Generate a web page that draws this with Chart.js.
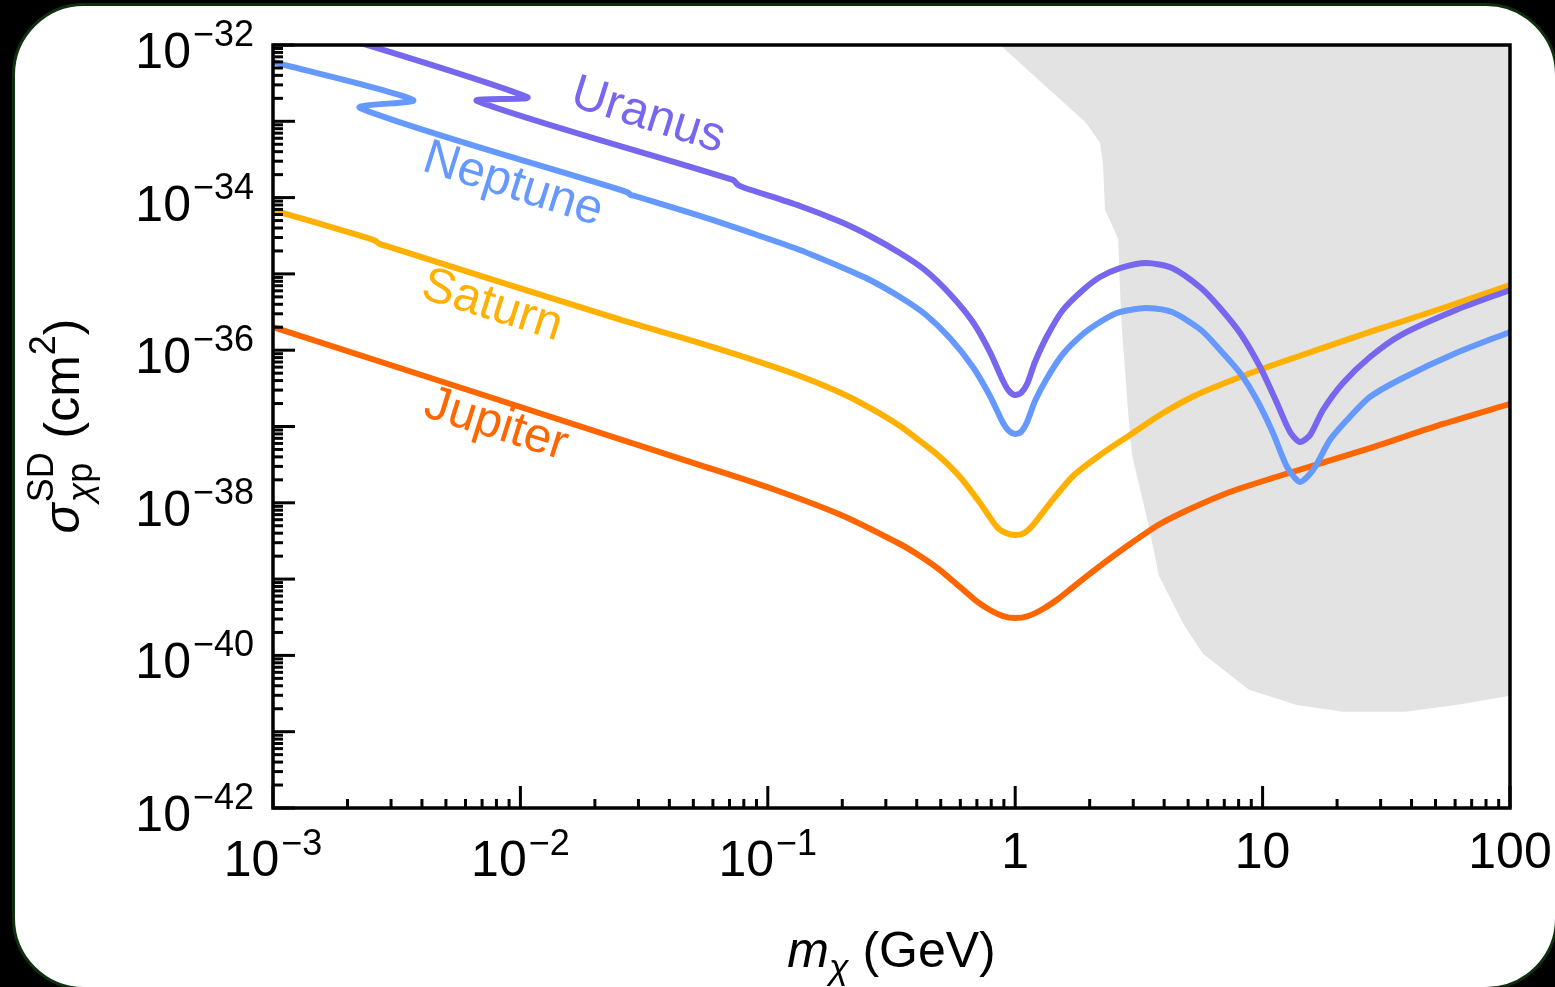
<!DOCTYPE html>
<html>
<head>
<meta charset="utf-8">
<script src="https://cdn.jsdelivr.net/npm/chart.js@4.4.0/dist/chart.umd.min.js"></script>
<style>
  html, body { margin: 0; padding: 0; background: #000; }
  #card {
    position: absolute; left: 12px; top: 3px; width: 1546px; height: 987px;
    box-sizing: border-box; background: #fff;
    border: 3px solid #0f300f; border-radius: 72px;
  }
  #chart { position: absolute; left: 0; top: 0; }
</style>
</head>
<body>
<div id="card"></div>
<canvas id="chart" width="1555" height="987"></canvas>
<script>
// Data: log10(m / GeV) and log10(sigma / cm^2)
const uranusLogM = [-3.000, -1.973, -2.175, -1.141, -1.120, -1.092, -0.870, -0.704, -0.587, -0.466, -0.365, -0.264, -0.171, -0.102,
    -0.049, -0.025, -0.001, 0.023, 0.048, 0.080, 0.129, 0.193, 0.274, 0.343, 0.424, 0.529, 0.634, 0.751, 0.828, 0.909,
    0.990, 1.058, 1.111, 1.151, 1.192, 1.244, 1.325, 1.434, 1.559, 1.782, 2.000];
const uranusLogSigma = [-31.620, -32.682, -32.734, -33.769, -33.835, -33.874, -34.110, -34.320, -34.503, -34.726, -34.949, -35.263, -35.630, -36.024,
    -36.404, -36.535, -36.587, -36.561, -36.443, -36.155, -35.814, -35.473, -35.211, -35.041, -34.923, -34.857, -34.923, -35.185, -35.447, -35.775,
    -36.220, -36.692, -37.072, -37.203, -37.111, -36.784, -36.430, -36.089, -35.801, -35.473, -35.211];

const neptuneLogM = [-3.000, -2.434, -2.648, -1.569, -1.553, -1.537, -1.274, -1.032, -0.870, -0.704, -0.587, -0.466, -0.365, -0.264, -0.171,
    -0.102, -0.049, -0.025, -0.001, 0.023, 0.048, 0.080, 0.129, 0.193, 0.274, 0.343, 0.411, 0.464, 0.529, 0.634, 0.751,
    0.828, 0.909, 0.977, 1.042, 1.099, 1.151, 1.204, 1.272, 1.341, 1.434, 1.559, 1.782, 2.000];
const neptuneLogSigma = [-32.223, -32.721, -32.826, -33.927, -33.966, -33.979, -34.241, -34.503, -34.687, -34.910, -35.080, -35.303, -35.526, -35.840, -36.220,
    -36.600, -36.954, -37.059, -37.098, -37.072, -36.941, -36.666, -36.364, -36.050, -35.788, -35.630, -35.512, -35.473, -35.447, -35.499, -35.735,
    -35.997, -36.299, -36.653, -37.085, -37.531, -37.727, -37.570, -37.177, -36.915, -36.613, -36.377, -36.037, -35.761];

const saturnLogM = [-3.000, -2.592, -2.568, -2.543, -1.593, -1.274, -1.032, -0.870, -0.704, -0.587, -0.466, -0.385, -0.304, -0.223, -0.142,
    -0.074, -0.037, -0.001, 0.036, 0.072, 0.141, 0.234, 0.343, 0.464, 0.585, 0.715, 0.868, 1.054, 1.434, 1.729, 2.000];
const saturnLogSigma = [-34.163, -34.556, -34.608, -34.634, -35.604, -35.906, -36.155, -36.338, -36.561, -36.757, -36.993, -37.190, -37.400, -37.662, -38.003,
    -38.317, -38.396, -38.422, -38.396, -38.291, -38.003, -37.649, -37.374, -37.111, -36.849, -36.613, -36.404, -36.181, -35.761, -35.447, -35.145];

const jupiterLogM = [-3.000, -1.274, -0.991, -0.704, -0.466, -0.385, -0.304, -0.223, -0.162, -0.102, -0.049, -0.001, 0.052, 0.112, 0.173,
    0.234, 0.343, 0.464, 0.585, 0.715, 0.868, 1.054, 1.434, 1.729, 2.000];
const jupiterLogSigma = [-35.696, -37.505, -37.806, -38.160, -38.540, -38.697, -38.881, -39.104, -39.274, -39.405, -39.484, -39.510, -39.484, -39.392, -39.261,
    -39.104, -38.828, -38.540, -38.278, -38.068, -37.858, -37.662, -37.282, -36.967, -36.705];

// excluded region (gray), lower edge; filled up to the top of the plot
const excludedLogM = [-0.061, 0.286, 0.343, 0.355, 0.363, 0.416, 0.428, 0.456, 0.472, 0.541, 0.581, 0.682, 0.759, 0.945, 1.139, 1.325, 1.576, 1.782, 2.000];
const excludedLogSigma = [-32.00, -33.02, -33.28, -33.57, -34.16, -34.54, -35.56, -36.80, -37.37, -38.32, -38.96, -39.60, -39.98, -40.45, -40.65, -40.74, -40.74, -40.65, -40.53];

// axes
const xDecades = [-3, -2, -1, 0, 1, 2];
const xTickBase = ['10', '10', '10', '1', '10', '100'];
const xTickExp = ['\u22123', '\u22122', '\u22121', '', '', ''];
const yDecades = [-42, -41, -40, -39, -38, -37, -36, -35, -34, -33, -32];
const yLabelDecades = [-32, -34, -36, -38, -40, -42];
const yTickExp = ['\u221232', '\u221234', '\u221236', '\u221238', '\u221240', '\u221242'];

const curveNames = ['Uranus', 'Neptune', 'Saturn', 'Jupiter'];
const curveColors = ['#7766ee', '#6699ff', '#ffb000', '#ff6600'];

const FONT = '"Liberation Sans", Arial, Helvetica, sans-serif';
function font(size, style) { return (style || '') + ' ' + size + 'px ' + FONT; }

function toPoints(logM, logS) {
    return logM.map((m, i) => ({ x: Math.pow(10, m), y: Math.pow(10, logS[i]) }));
}

// label placement (center x, center y, angle in degrees)
const labelPlacement = [[648, 116, 17.5], [513, 185, 17.5], [492, 306, 17.5], [496, 425, 17.5]];

// Draw frame, inward ticks, tick labels, titles and curve labels
const decorations = {
    id: 'decorations',
    afterDatasetsDraw(chart) {
        const { ctx, chartArea: a, scales: { x, y } } = chart;
        ctx.save();
        ctx.strokeStyle = '#000';
        ctx.fillStyle = '#000';
        ctx.lineWidth = 3;

        // x ticks (bottom, pointing up)
        xDecades.forEach(d => {
            for (let k = 1; k <= 9; k++) {
                const v = k * Math.pow(10, d);
                if (v > 100 * 1.0001) break;
                const px = x.getPixelForValue(v);
                const len = k === 1 ? 22 : 9;
                ctx.beginPath();
                ctx.moveTo(px, a.bottom);
                ctx.lineTo(px, a.bottom - len);
                ctx.stroke();
            }
        });
        // y ticks (left, pointing right)
        yDecades.forEach(d => {
            for (let k = 1; k <= 9; k++) {
                const v = k * Math.pow(10, d);
                if (v > 1e-32 * 1.0001) break;
                const py = y.getPixelForValue(v);
                const len = k === 1 ? 22 : 10;
                ctx.beginPath();
                ctx.moveTo(a.left, py);
                ctx.lineTo(a.left + len, py);
                ctx.stroke();
            }
        });

        ctx.lineWidth = 3.5;
        ctx.strokeRect(a.left, a.top, a.right - a.left, a.bottom - a.top);

        // x tick labels
        ctx.textAlign = 'left';
        ctx.textBaseline = 'alphabetic';
        xDecades.forEach((d, i) => {
            const px = x.getPixelForValue(Math.pow(10, d));
            ctx.font = font(50);
            const wb = ctx.measureText(xTickBase[i]).width;
            if (xTickExp[i]) {
                ctx.font = font(36);
                const we = ctx.measureText(xTickExp[i]).width;
                const start = px - (wb + 2 + we) / 2;
                ctx.font = font(50);
                ctx.fillText(xTickBase[i], start, 876);
                ctx.font = font(36);
                ctx.fillText(xTickExp[i], start + wb + 2, 855);
            } else {
                ctx.fillText(xTickBase[i], px - wb / 2, 868);
            }
        });

        // y tick labels
        yLabelDecades.forEach((d, i) => {
            const py = y.getPixelForValue(Math.pow(10, d));
            ctx.font = font(36);
            const we = ctx.measureText(yTickExp[i]).width;
            ctx.fillText(yTickExp[i], 254 - we, py + 1);
            ctx.font = font(50);
            const wb = ctx.measureText('10').width;
            ctx.fillText('10', 254 - we - 2 - wb, py + 23);
        });

        // x title: m_chi (GeV)
        const xParts = [['m', font(50, 'italic'), 0], ['\u03c7', font(36, 'italic'), 12], [' (GeV)', font(50), 0]];
        let total = 0;
        xParts.forEach(p => { ctx.font = p[1]; total += ctx.measureText(p[0]).width; });
        let cx = (a.left + a.right) / 2 - total / 2;
        xParts.forEach(p => {
            ctx.font = p[1];
            ctx.fillText(p[0], cx, 967 + p[2]);
            cx += ctx.measureText(p[0]).width;
        });

        // y title: sigma^SD_chi p (cm^2), rotated
        ctx.save();
        ctx.translate(79, 426);
        ctx.rotate(-Math.PI / 2);
        ctx.font = font(50, 'italic');
        const wSig = ctx.measureText('\u03c3').width;
        ctx.font = font(36);
        const wSD = ctx.measureText('SD').width;
        ctx.font = font(36, 'italic');
        const wChi = ctx.measureText('\u03c7').width;
        ctx.font = font(36);
        const wP = ctx.measureText('p').width;
        const wScript = Math.max(wSD, wChi + wP);
        ctx.font = font(50);
        const wOpen = ctx.measureText(' (cm').width;
        const wClose = ctx.measureText(')').width;
        ctx.font = font(36);
        const wTwo = ctx.measureText('2').width;
        total = wSig + 1 + wScript + wOpen + wTwo + wClose;
        let tx = -total / 2;
        ctx.font = font(50, 'italic');
        ctx.fillText('\u03c3', tx, 0);
        tx += wSig + 1;
        ctx.font = font(36);
        ctx.fillText('SD', tx, -26);
        ctx.font = font(36, 'italic');
        ctx.fillText('\u03c7', tx, 13);
        ctx.font = font(36);
        ctx.fillText('p', tx + wChi, 13);
        tx += wScript;
        ctx.font = font(50);
        ctx.fillText(' (cm', tx, 0);
        tx += wOpen;
        ctx.font = font(36);
        ctx.fillText('2', tx, -24);
        tx += wTwo;
        ctx.font = font(50);
        ctx.fillText(')', tx, 0);
        ctx.restore();

        // curve labels
        ctx.textAlign = 'center';
        ctx.textBaseline = 'middle';
        ctx.font = font(49);
        curveNames.forEach((name, i) => {
            const [lx, ly, ang] = labelPlacement[i];
            ctx.save();
            ctx.translate(lx, ly);
            ctx.rotate(ang * Math.PI / 180);
            ctx.fillStyle = curveColors[i];
            ctx.fillText(name, 0, 0);
            ctx.restore();
        });
        ctx.restore();
    }
};

function curveDataset(i, logM, logS) {
    return {
        label: curveNames[i],
        data: toPoints(logM, logS),
        showLine: true,
        borderColor: curveColors[i],
        borderWidth: 6,
        borderJoinStyle: 'round',
        borderCapStyle: 'butt',
        pointRadius: 0,
        tension: 0.25,
        fill: false,
        order: i
    };
}

const chart = new Chart(document.getElementById('chart'), {
    type: 'scatter',
    data: {
        datasets: [
            curveDataset(0, uranusLogM, uranusLogSigma),
            curveDataset(1, neptuneLogM, neptuneLogSigma),
            curveDataset(2, saturnLogM, saturnLogSigma),
            curveDataset(3, jupiterLogM, jupiterLogSigma),
            {
                label: 'excluded',
                data: toPoints(excludedLogM, excludedLogSigma),
                showLine: true,
                borderWidth: 0,
                borderColor: 'rgba(0,0,0,0)',
                backgroundColor: '#e3e3e3',
                pointRadius: 0,
                tension: 0,
                fill: 'end',
                order: 10
            }
        ]
    },
    options: {
        responsive: false,
        animation: false,
        devicePixelRatio: 1,
        layout: { padding: { left: 273, right: 45, top: 45, bottom: 179 } },
        plugins: { legend: { display: false }, tooltip: { enabled: false } },
        scales: {
            x: { type: 'logarithmic', min: 1e-3, max: 100, display: false },
            y: { type: 'logarithmic', min: 1e-42, max: 1e-32, display: false }
        }
    },
    plugins: [decorations]
});
</script>
</body>
</html>
